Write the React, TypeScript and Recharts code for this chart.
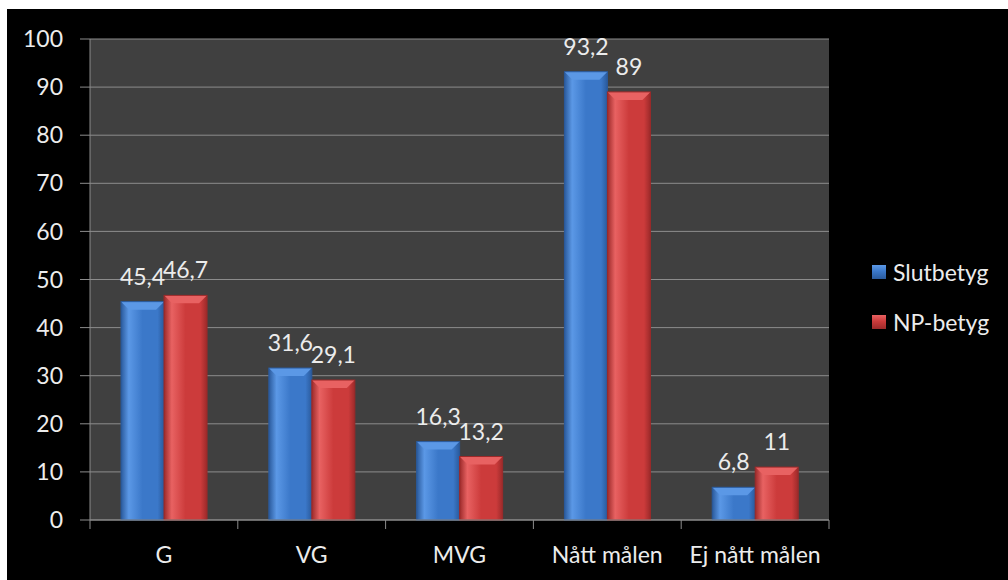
import { BarChart, Bar, XAxis, YAxis, CartesianGrid, Legend, LabelList } from "recharts";

const categories = ["G", "VG", "MVG", "Nått målen", "Ej nått målen"];
const slutbetyg = [45.4, 31.6, 16.3, 93.2, 6.8];
const npBetyg = [46.7, 29.1, 13.2, 89, 11];
const yTicks = [0, 10, 20, 30, 40, 50, 60, 70, 80, 90, 100];

const data = categories.map((name, i) => ({
  name,
  slutbetyg: slutbetyg[i],
  npBetyg: npBetyg[i],
}));

const FONT = "Lato, 'Open Sans', sans-serif";
const AXIS_GRAY = "#8c8c8c";
const TEXT = "#ececec";
const FS = 23;

const series = [
  { key: "slutbetyg", label: "Slutbetyg", base: "#3b78c9", light: "#5b98e6", dark: "#2a5a9c" },
  { key: "npBetyg", label: "NP-betyg", base: "#cc3b3b", light: "#e86262", dark: "#9c2a2a" },
];

const fmt = (v: any) => String(v).replace(".", ",");

// bevelled bar like the office 3D-ish style
const makeShape = (s: typeof series[number]) => (props: any) => {
  const { x, y, width, height } = props;
  if (!height || height <= 0) return null;
  const bev = Math.min(8, height / 2);
  return (
    <g>
      <rect x={x} y={y} width={width} height={height} fill={`url(#grad-${s.key})`} />
      <polygon
        points={`${x},${y} ${x + width},${y} ${x + width - bev},${y + bev} ${x + bev},${y + bev}`}
        fill={s.light}
      />
      <rect x={x} y={y} width={width} height={height} fill="none" stroke={s.dark} strokeWidth={1} />
    </g>
  );
};

const XTick = (props: any) => {
  const { x, y, payload, index } = props;
  const half = payload?.offset ?? 73.9;
  const axisY = y - 8;
  return (
    <g>
      <line x1={x - half} y1={axisY} x2={x - half} y2={axisY + 9} stroke={AXIS_GRAY} />
      {index === categories.length - 1 && (
        <line x1={x + half} y1={axisY} x2={x + half} y2={axisY + 9} stroke={AXIS_GRAY} />
      )}
      <text x={x} y={axisY + 43} textAnchor="middle" fill={TEXT} fontSize={FS} fontFamily={FONT}>
        {payload.value}
      </text>
    </g>
  );
};

const LegendBox = () => (
  <div style={{ fontFamily: FONT, fontSize: FS, color: TEXT }}>
    {series.map((s) => (
      <div key={s.key} style={{ display: "flex", alignItems: "center", height: 30, marginBottom: 20 }}>
        <span
          style={{
            display: "inline-block",
            width: 14,
            height: 14,
            marginRight: 7,
            background: `linear-gradient(180deg, ${s.light} 0%, ${s.base} 45%, ${s.dark} 100%)`,
          }}
        />
        <span>{s.label}</span>
      </div>
    ))}
  </div>
);

export default function App() {
  return (
    <div style={{ position: "absolute", left: 7, top: 9, width: 1001, height: 571, background: "#000" }}>
      <BarChart
        width={1001}
        height={571}
        data={data}
        margin={{ top: 30, right: 49, left: 0, bottom: 0 }}
        barCategoryGap="21%"
        barGap={0}
      >
        <defs>
          {series.map((s) => (
            <linearGradient key={s.key} id={`grad-${s.key}`} x1="0" y1="0" x2="1" y2="0">
              <stop offset="0%" stopColor={s.dark} />
              <stop offset="18%" stopColor={s.light} />
              <stop offset="50%" stopColor={s.base} />
              <stop offset="85%" stopColor={s.base} />
              <stop offset="100%" stopColor={s.dark} />
            </linearGradient>
          ))}
        </defs>
        <CartesianGrid vertical={false} fill="#404040" stroke={AXIS_GRAY} strokeWidth={1} />
        <XAxis
          dataKey="name"
          height={60}
          axisLine={{ stroke: AXIS_GRAY }}
          tickLine={false}
          tickSize={6}
          tickMargin={2}
          tick={<XTick />}
          interval={0}
        />
        <YAxis
          width={83}
          domain={[0, 100]}
          ticks={yTicks}
          interval={0}
          axisLine={{ stroke: AXIS_GRAY }}
          tickLine={{ stroke: AXIS_GRAY }}
          tickSize={10}
          tickMargin={17}
          tick={{ fill: TEXT, fontSize: FS, fontFamily: FONT }}
        />
        <Legend
          layout="vertical"
          align="right"
          verticalAlign="top"
          content={<LegendBox />}
          wrapperStyle={{ left: 865, top: 248, width: 130 }}
        />
        {series.map((s) => (
          <Bar key={s.key} dataKey={s.key} name={s.label} fill={s.base} shape={makeShape(s)} isAnimationActive={false}>
            <LabelList
              dataKey={s.key}
              position="top"
              offset={17}
              formatter={fmt}
              fill={TEXT}
              fontSize={FS}
              fontFamily={FONT}
            />
          </Bar>
        ))}
      </BarChart>
    </div>
  );
}
